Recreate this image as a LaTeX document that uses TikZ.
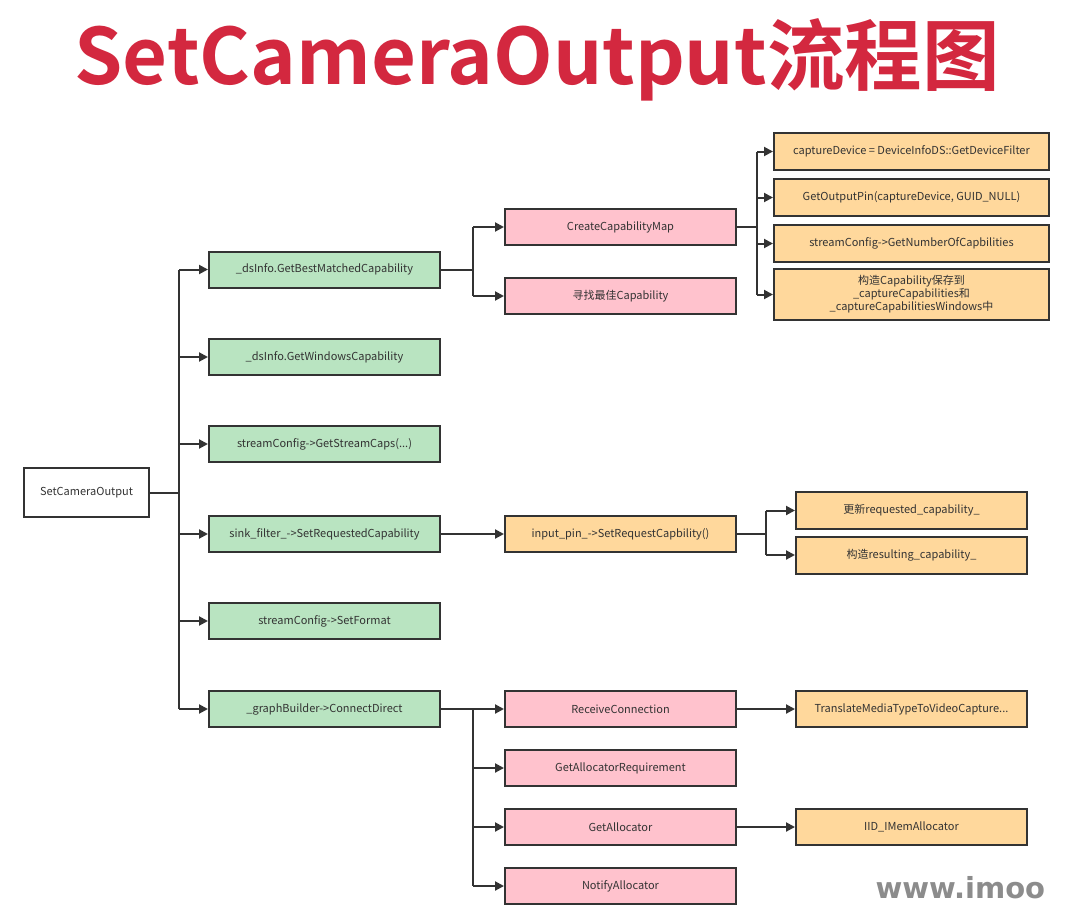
\documentclass[tikz,border=0pt]{standalone}
\usepackage{fontspec}
\usetikzlibrary{arrows.meta}
\newfontfamily\cjk{Noto Sans CJK SC}
\newfontfamily\cjkb{Noto Sans CJK SC Bold}
\definecolor{gfill}{HTML}{B9E4C1}
\definecolor{pfill}{HTML}{FFC2CD}
\definecolor{ofill}{HTML}{FFD89C}
\definecolor{tred}{HTML}{D3283F}
\definecolor{edge}{HTML}{333333}
\begin{document}
\begin{tikzpicture}[x=1pt,y=-1pt,
  box/.style={draw=edge,line width=2pt,minimum height=36pt,inner sep=2pt,align=center,font=\cjk\fontsize{11}{13}\selectfont,text=black!80},
  gbox/.style={box,fill=gfill,minimum width=231pt},
  pbox/.style={box,fill=pfill,minimum width=231pt},
  obox/.style={box,fill=ofill,minimum width=231pt},
  wbox/.style={box,fill=white,minimum width=125pt,minimum height=49pt},
  conn/.style={draw=edge,line width=2pt},
  arr/.style={conn,-{Triangle[length=9pt,width=9pt]}}]
\useasboundingbox (0,0) rectangle (1080,911);
\fill[white] (0,0) rectangle (1080,911);
\node[font=\cjkb,text=tred] (title) at (537,60) {\resizebox{925pt}{!}{SetCameraOutput流程图}};
\node[wbox] (root) at (86.5,492.5) {SetCameraOutput};
\node[gbox] (g1) at (324.5,269.5) {\_dsInfo.GetBestMatchedCapability};
\node[gbox] (g2) at (324.5,357) {\_dsInfo.GetWindowsCapability};
\node[gbox] (g3) at (324.5,444) {streamConfig-{}>GetStreamCaps(...)};
\node[gbox] (g4) at (324.5,534) {sink\_filter\_-{}>SetRequestedCapability};
\node[gbox] (g5) at (324.5,621) {streamConfig-{}>SetFormat};
\node[gbox] (g6) at (324.5,709) {\_graphBuilder-{}>ConnectDirect};
\node[pbox] (p1) at (620.5,227) {CreateCapabilityMap};
\node[pbox] (p2) at (620.5,296) {寻找最佳Capability};
\node[obox,minimum width=275pt,minimum height=37pt] (o1) at (911.5,151.5) {captureDevice = DeviceInfoDS::GetDeviceFilter};
\node[obox,minimum width=275pt,minimum height=37pt] (o2) at (911.5,197.5) {GetOutputPin(captureDevice, GUID\_NULL)};
\node[obox,minimum width=275pt,minimum height=37pt] (o3) at (911.5,243.5) {streamConfig-{}>GetNumberOfCapbilities};
\node[obox,minimum width=275pt,minimum height=51pt] (o4) at (911.5,294.5) {构造Capability保存到\\\_captureCapabilities和\\\_captureCapabilitiesWindows中};
\node[obox] (ip) at (620.5,534) {input\_pin\_-{}>SetRequestCapbility()};
\node[obox,minimum height=37pt] (u1) at (911.5,510.5) {更新requested\_capability\_};
\node[obox,minimum height=37pt] (u2) at (911.5,555) {构造resulting\_capability\_};
\node[pbox] (r1) at (620.5,709) {ReceiveConnection};
\node[pbox] (r2) at (620.5,768) {GetAllocatorRequirement};
\node[pbox] (r3) at (620.5,827) {GetAllocator};
\node[pbox] (r4) at (620.5,886) {NotifyAllocator};
\node[obox] (t1) at (911.5,709) {TranslateMediaTypeToVideoCapture...};
\node[obox] (t2) at (911.5,827) {IID\_IMemAllocator};
\node[font=\fontspec{DejaVu Sans Bold}\fontsize{29}{29}\selectfont,text=black!45,anchor=west] (wm) at (872,888) {www.imoo};
% connectors
\draw[conn] (root.east) -- (179,492.5);
\draw[conn] (179,269.5) -- (179,709);
\foreach \g in {g1,g2,g3,g4,g5,g6} \draw[arr] (179,0 |- \g.west) -- (\g.west);
\draw[conn] (g1.east) -- (473,269.5);
\draw[conn] (473,227) -- (473,296);
\foreach \p in {p1,p2} \draw[arr] (473,0 |- \p.west) -- (\p.west);
\draw[conn] (p1.east) -- (757,227);
\draw[conn] (757,151.5) -- (757,294.5);
\foreach \o in {o1,o2,o3,o4} \draw[arr] (757,0 |- \o.west) -- (\o.west);
\draw[arr] (g4.east) -- (ip.west);
\draw[conn] (ip.east) -- (766,534);
\draw[conn] (766,510.5) -- (766,555);
\foreach \u in {u1,u2} \draw[arr] (766,0 |- \u.west) -- (\u.west);
\draw[conn] (g6.east) -- (473,709);
\draw[conn] (473,709) -- (473,886);
\foreach \r in {r1,r2,r3,r4} \draw[arr] (473,0 |- \r.west) -- (\r.west);
\draw[arr] (r1.east) -- (t1.west);
\draw[arr] (r3.east) -- (t2.west);
\end{tikzpicture}
\end{document}
